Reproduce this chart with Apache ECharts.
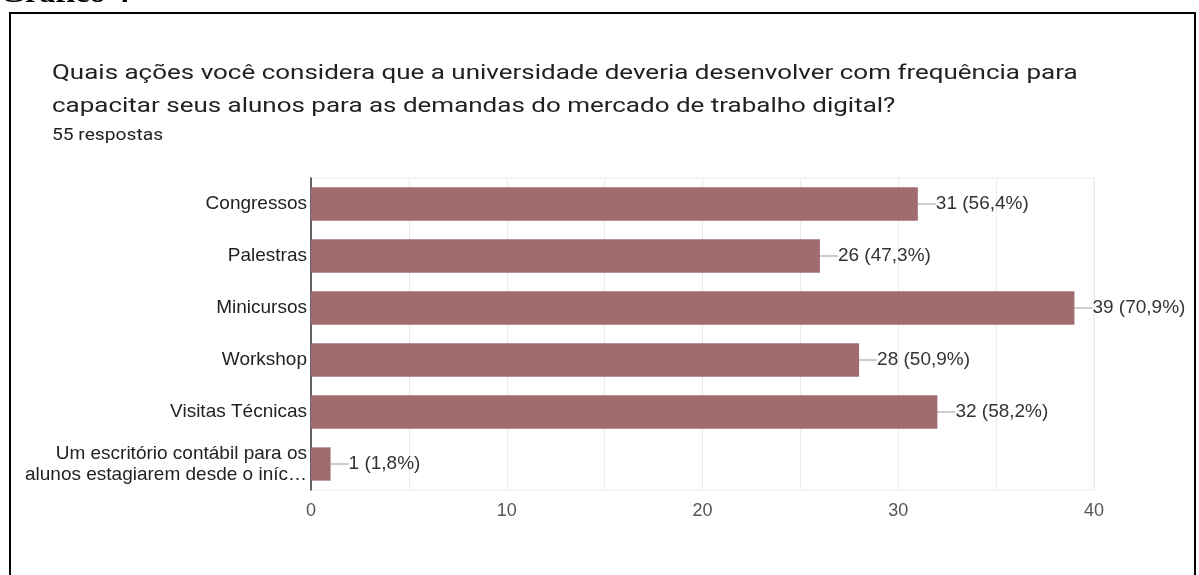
<!DOCTYPE html>
<html>
<head>
<meta charset="utf-8">
<script src="https://cdn.jsdelivr.net/npm/echarts@6/dist/echarts.min.js"></script>
<style>
  html, body { margin: 0; padding: 0; background: #fff; }
  #chart { width: 1199px; height: 575px; }
</style>
</head>
<body>
<div id="chart"></div>
<script>
  // dados
  const categories = [
    'Congressos',
    'Palestras',
    'Minicursos',
    'Workshop',
    'Visitas Técnicas',
    'Um escritório contábil para os\nalunos estagiarem desde o iníc…'
  ]
  const counts = [31, 26, 39, 28, 32, 1]
  const percents = ['56,4%', '47,3%', '70,9%', '50,9%', '58,2%', '1,8%']
  const xTicks = [0, 10, 20, 30, 40]

  const barColor = '#a06c6f'

  const chart = echarts.init(document.getElementById('chart'))

  chart.setOption({
    animation: false,
    textStyle: { fontFamily: 'Liberation Sans, Arial, sans-serif' },
    graphic: [
      {
        type: 'text',
        x: 0,
        y: 9,
        scaleX: 1.15,
        style: {
          text: 'Gráfico 4',
          font: 'bold 28px "Liberation Serif", "Times New Roman", serif',
          fill: '#000',
          verticalAlign: 'bottom'
        }
      },
      {
        type: 'rect',
        shape: { x: 10, y: 13, width: 1185, height: 620 },
        style: { fill: 'none', stroke: '#000', lineWidth: 2 }
      },
      {
        type: 'text',
        x: 52,
        y: 57,
        scaleX: 1.237,
        style: {
          text: 'Quais ações você considera que a universidade deveria desenvolver com frequência para\ncapacitar seus alunos para as demandas do mercado de trabalho digital?',
          font: '21px Roboto, "Liberation Sans", Arial, sans-serif',
          lineHeight: 33,
          fill: '#202124'
        }
      },
      {
        type: 'text',
        x: 52,
        y: 128,
        scaleX: 1.2,
        style: {
          text: '55 respostas',
          font: '16px Roboto, "Liberation Sans", Arial, sans-serif',
          fill: '#202124'
        }
      }
    ],
    grid: {
      left: 311, right: 105, top: 178, bottom: 85,
      show: true, borderColor: '#ebebeb', borderWidth: 1
    },
    xAxis: {
      type: 'value',
      min: xTicks[0],
      max: xTicks[xTicks.length - 1],
      interval: 10,
      axisLine: { show: false },
      axisTick: { show: false },
      axisLabel: { color: '#555', fontSize: 18, margin: 12 },
      splitLine: { lineStyle: { color: '#ebebeb', width: 1 } },
      minorTick: { show: false, splitNumber: 2 },
      minorSplitLine: { show: true, lineStyle: { color: '#ebebeb', width: 1 } }
    },
    yAxis: {
      type: 'category',
      inverse: true,
      data: categories,
      axisLine: { show: true, lineStyle: { color: '#333', width: 1.5 } },
      axisTick: { show: false },
      axisLabel: {
        color: '#222',
        fontSize: 19,
        margin: 4,
        lineHeight: 21,
        align: 'right'
      },
      splitLine: { show: false }
    },
    series: [
      {
        type: 'bar',
        data: counts,
        barCategoryGap: '36%',
        itemStyle: { color: barColor },
        label: {
          show: true,
          position: 'right',
          distance: 0,
          color: '#333',
          fontSize: 19,
          formatter: (p) => counts[p.dataIndex] + ' (' + percents[p.dataIndex] + ')'
        },
        labelLayout: { dx: 18 },
        labelLine: { show: true, lineStyle: { color: '#999', width: 1 } }
      }
    ]
  })
</script>
</body>
</html>
